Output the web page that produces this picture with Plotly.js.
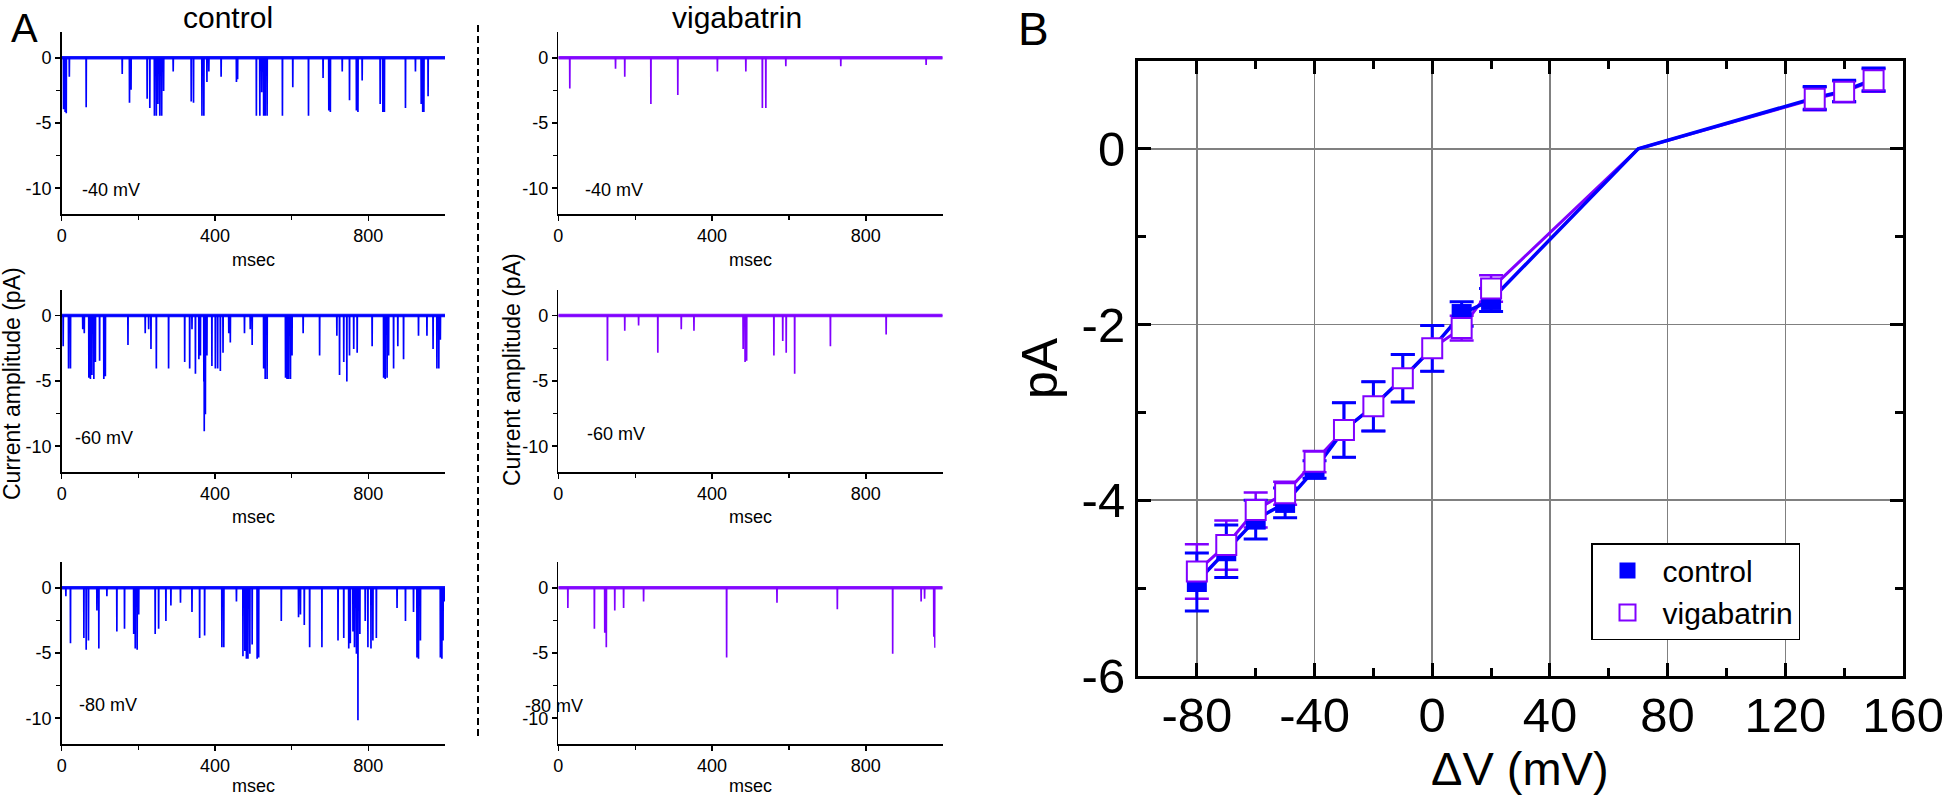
<!DOCTYPE html>
<html><head><meta charset="utf-8">
<script src="https://cdn.plot.ly/plotly-3.0.1.min.js"></script>
<style>html,body{margin:0;padding:0;background:#fff;} #chart{width:1946px;height:797px;}</style>
</head><body><div id="chart"></div>
<script>
// ---------- Panel A data: single-channel events (time ms, amplitude pA) ----------
const timeTicks = [0, 400, 800];
const timeTickText = ['0', '400', '800'];
const timeMinor = [200, 600];
const ampTicks = [0, -5, -10];
const ampTickText = ['0', '-5', '-10'];
const ampMinor = [-2.5, -7.5];
const holdingLabels = ['-40 mV', '-60 mV', '-80 mV'];
const groupNames = ['control', 'vigabatrin'];

const ctl40T = [4, 8, 11, 19, 63, 157, 176, 180, 222, 229, 241, 246, 250, 255, 260, 265, 290, 337, 343, 365, 370, 378, 383, 415, 455, 458, 507, 516, 521, 526, 530, 535, 575, 602, 643, 681, 696, 700, 731, 750, 768, 772, 783, 830, 837, 841, 896, 922, 937, 941, 944, 955];
const ctl40A = [-3.9, -4.1, -4.2, -1.4, -3.75, -1.2, -3.4, -2.4, -3.1, -3.8, -4.4, -4.4, -3.5, -4.4, -4.4, -2.5, -1.0, -3.3, -3.4, -4.4, -4.4, -1.8, -1.0, -1.4, -1.8, -1.6, -4.4, -4.4, -2.6, -4.4, -4.4, -4.4, -4.4, -2.2, -4.4, -1.5, -4.0, -4.1, -1.0, -3.2, -4.0, -4.1, -1.7, -3.5, -4.1, -4.1, -3.8, -1.0, -3.5, -4.1, -4.1, -2.9];

const vig40T = [29, 148, 172, 240, 310, 413, 487, 530, 539, 591, 734, 956];
const vig40A = [-2.3, -0.8, -1.4, -3.5, -2.8, -1.0, -1.0, -3.8, -3.8, -0.6, -0.6, -0.5];

const ctl60T = [3, 17, 22, 54, 58, 70, 74, 78, 83, 87, 98, 109, 113, 172, 217, 226, 232, 246, 278, 320, 333, 339, 348, 357, 361, 370, 371, 374, 378, 391, 400, 406, 413, 420, 435, 439, 476, 491, 496, 526, 530, 535, 583, 587, 591, 596, 600, 629, 672, 717, 724, 735, 743, 750, 761, 770, 809, 839, 843, 848, 852, 865, 876, 891, 930, 952, 968, 978, 983, 987];
const ctl60A = [-2.3, -4.0, -4.0, -1.0, -1.3, -4.7, -4.8, -4.5, -4.8, -3.5, -3.4, -4.8, -4.6, -2.2, -1.3, -1.0, -2.5, -4.0, -4.0, -3.5, -4.0, -1.0, -4.4, -3.3, -3.0, -5.0, -8.8, -7.5, -3.0, -3.8, -4.0, -4.0, -4.2, -2.8, -1.3, -2.0, -1.3, -1.0, -2.2, -4.0, -4.8, -4.8, -4.7, -4.8, -4.8, -4.8, -3.0, -1.3, -3.0, -1.5, -4.5, -3.5, -5.0, -3.0, -2.5, -2.8, -2.3, -4.7, -4.8, -4.7, -3.0, -4.0, -2.3, -3.3, -1.5, -1.5, -2.5, -4.0, -4.0, -1.8];

const vig60T = [127, 172, 208, 258, 319, 352, 480, 485, 489, 560, 583, 592, 614, 707, 852];
const vig60A = [-3.4, -1.1, -0.7, -2.8, -1.0, -1.1, -2.5, -3.5, -3.4, -3.0, -1.9, -2.8, -4.4, -2.3, -1.4];

const ctl80T = [10, 22, 57, 63, 69, 91, 96, 117, 143, 163, 187, 191, 196, 200, 243, 252, 271, 284, 309, 339, 359, 372, 417, 422, 455, 472, 477, 481, 485, 490, 496, 509, 513, 572, 617, 622, 632, 646, 678, 720, 735, 748, 752, 759, 763, 768, 772, 777, 791, 798, 806, 811, 820, 874, 896, 917, 926, 930, 935, 987, 991, 994, 998];
const ctl80A = [-0.6, -4.2, -3.8, -4.7, -4.0, -1.7, -4.6, -0.6, -3.3, -3.1, -3.5, -4.6, -4.7, -2.0, -3.5, -3.1, -2.5, -1.3, -1.1, -1.8, -3.8, -3.6, -4.5, -4.5, -1.0, -5.2, -4.8, -5.4, -5.4, -5.0, -4.3, -5.4, -5.3, -2.5, -2.2, -2.0, -2.8, -4.5, -4.5, -4.0, -3.8, -4.6, -4.2, -3.3, -4.5, -5.0, -10.1, -3.5, -2.5, -4.5, -4.6, -4.0, -3.8, -1.5, -2.5, -1.8, -5.3, -5.4, -4.0, -5.3, -5.4, -4.0, -1.0];

const vig80T = [24, 93, 120, 124, 146, 169, 221, 437, 568, 725, 869, 943, 952, 976, 978];
const vig80A = [-1.5, -3.1, -3.4, -4.5, -1.7, -1.5, -1.0, -5.3, -1.1, -1.6, -5.0, -1.0, -0.8, -3.7, -4.6];

// ---------- Panel B data: I-V relation ----------
const dV = [-80, -70, -60, -50, -40, -30, -20, -10, 0, 10, 20, 130, 140, 150];
const controlI = [-4.93, -4.58, -4.22, -4.03, -3.65, -3.20, -2.93, -2.61, -2.27, -1.88, -1.72, 0.58, 0.66, 0.79];
const controlErr = [0.33, 0.30, 0.22, 0.17, 0.10, 0.31, 0.28, 0.27, 0.26, 0.14, 0.13, 0.13, 0.12, 0.13];
const vigI = [-4.81, -4.51, -4.11, -3.92, -3.56, -3.20, -2.93, -2.61, -2.27, -2.04, -1.59, 0.57, 0.65, 0.78];
const vigErr = [0.31, 0.28, 0.20, 0.13, 0.12, 0.31, 0.28, 0.27, 0.26, 0.14, 0.15, 0.13, 0.12, 0.13];
const reversalV = 70;      // zero-current crossing joined by the line
const reversalI = 0;
const dVTicks = [-80, -40, 0, 40, 80, 120, 160];
const dVTickText = ['-80', '-40', '0', '40', '80', '120', '160'];
const dVMinor = [-100, -60, -20, 20, 60, 100, 140];
const iTicks = [-6, -4, -2, 0];
const iTickText = ['-6', '-4', '-2', '0'];
const iMinor = [-5, -3, -1];

// ---------- styling ----------
const FONT = 'Liberation Sans, Arial, Helvetica, sans-serif';
const BLUE = '#0000ff';
const PURPLE = '#8000ff';
const W = 1946, H = 797;
const px = v => v / W;
const py = v => 1 - v / H;

function buildTrace(ts, as) {
  const x = [0], y = [0];
  ts.forEach((t, i) => { x.push(t, t + 0.4, t + 1.4, t + 1.8); y.push(0, as[i], as[i], 0); });
  x.push(1000); y.push(0);
  return { x, y };
}

const panelSeries = [
  [[ctl40T, ctl40A], [vig40T, vig40A]],
  [[ctl60T, ctl60A], [vig60T, vig60A]],
  [[ctl80T, ctl80A], [vig80T, vig80A]]
];
const colXpx = [[61.7, 445], [558.3, 942.7]];
const rowYpx = [[31.7, 214.3], [289.5, 472.3], [561.7, 744.3]];

const traces = [];
const layout = {
  width: W, height: H, margin: { l: 0, r: 0, t: 0, b: 0, pad: 0 },
  paper_bgcolor: '#fff', plot_bgcolor: 'rgba(0,0,0,0)',
  font: { family: FONT, color: '#000' },
  showlegend: true,
  annotations: [], shapes: []
};

const axBase = {
  showline: true, linecolor: '#000', linewidth: 1.5, ticks: 'outside', ticklen: 5, tickwidth: 1.5,
  tickcolor: '#000', showgrid: false, zeroline: false, fixedrange: true,
  tickfont: { family: FONT, size: 18, color: '#000' }
};

for (let r = 0; r < 3; r++) {
  for (let c = 0; c < 2; c++) {
    const idx = r * 2 + c + 1;
    const xs = idx === 1 ? '' : String(idx);
    const d = buildTrace(panelSeries[r][c][0], panelSeries[r][c][1]);
    const col = c === 0 ? BLUE : PURPLE;
    traces.push({ x: [0, 1000], y: [0, 0], xaxis: 'x' + xs, yaxis: 'y' + xs, mode: 'lines',
      line: { color: col, width: 3.5 }, opacity: 0.9, showlegend: false, hoverinfo: 'skip' });
    traces.push({ x: d.x, y: d.y, xaxis: 'x' + xs, yaxis: 'y' + xs, mode: 'lines',
      line: { color: col, width: 1.3 }, showlegend: false, hoverinfo: 'skip' });
    layout['xaxis' + xs] = Object.assign({}, axBase, {
      domain: [px(colXpx[c][0]), px(colXpx[c][1])], anchor: 'y' + xs, range: [0, 1000],
      tickmode: 'array', tickvals: timeTicks, ticktext: timeTickText,
      minor: { tickmode: 'array', tickvals: timeMinor, ticks: 'outside', ticklen: 4, tickwidth: 1.2, tickcolor: '#000' }
    });
    layout['yaxis' + xs] = Object.assign({}, axBase, {
      domain: [py(rowYpx[r][1]), py(rowYpx[r][0])], anchor: 'x' + xs, range: [-12, 2],
      tickmode: 'array', tickvals: ampTicks, ticktext: ampTickText,
      minor: { tickmode: 'array', tickvals: ampMinor, ticks: 'outside', ticklen: 4, tickwidth: 1.2, tickcolor: '#000' }
    });
  }
}

// Panel B
const lineX = dV.slice(0, 11).concat([reversalV], dV.slice(11));
const lineCtl = controlI.slice(0, 11).concat([reversalI], controlI.slice(11));
const lineVig = vigI.slice(0, 11).concat([reversalI], vigI.slice(11));
traces.push({ x: lineX, y: lineVig, xaxis: 'x7', yaxis: 'y7', mode: 'lines', line: { color: PURPLE, width: 3 }, showlegend: false, hoverinfo: 'skip' });
traces.push({ x: lineX, y: lineCtl, xaxis: 'x7', yaxis: 'y7', mode: 'lines', line: { color: BLUE, width: 3.5 }, showlegend: false, hoverinfo: 'skip' });
traces.push({ x: dV, y: vigI, xaxis: 'x7', yaxis: 'y7', mode: 'markers', marker: { size: 1, opacity: 0 },
  error_y: { type: 'data', array: vigErr, visible: true, color: PURPLE, thickness: 2.5, width: 12 }, showlegend: false, hoverinfo: 'skip' });
traces.push({ x: dV, y: controlI, xaxis: 'x7', yaxis: 'y7', mode: 'markers', name: groupNames[0],
  marker: { symbol: 'square', size: 20, color: BLUE, line: { width: 0 } },
  error_y: { type: 'data', array: controlErr, visible: true, color: BLUE, thickness: 3, width: 12 } });
traces.push({ x: dV, y: vigI, xaxis: 'x7', yaxis: 'y7', mode: 'markers', name: groupNames[1],
  marker: { symbol: 'square', size: 20, color: '#ffffff', line: { width: 2, color: PURPLE } } });

const bAx = {
  showline: true, mirror: 'ticks', linecolor: '#000', linewidth: 3, ticks: 'inside', ticklen: 13, tickwidth: 3,
  tickcolor: '#000', showgrid: true, gridcolor: '#808080', gridwidth: 1.6, zeroline: false, fixedrange: true,
  tickfont: { family: FONT, size: 49, color: '#000' }
};
layout.xaxis7 = Object.assign({}, bAx, {
  domain: [px(1138), px(1903)], anchor: 'y7', range: [-100, 160], tickmode: 'array', tickvals: dVTicks, ticktext: dVTickText,
  ticklabelstandoff: -6,
  minor: { tickmode: 'array', tickvals: dVMinor, ticks: 'inside', ticklen: 8, tickwidth: 3, tickcolor: '#000', showgrid: false }
});
layout.yaxis7 = Object.assign({}, bAx, {
  domain: [py(676), py(61)], anchor: 'x7', range: [-6, 1], tickmode: 'array', tickvals: iTicks, ticktext: iTickText,
  minor: { tickmode: 'array', tickvals: iMinor, ticks: 'inside', ticklen: 8, tickwidth: 3, tickcolor: '#000', showgrid: false }
});

layout.legend = {
  x: px(1591), y: py(543), xanchor: 'left', yanchor: 'top', bgcolor: '#fff', bordercolor: '#000', borderwidth: 1.5,
  font: { family: FONT, size: 30, color: '#000' }, itemsizing: 'trace', itemwidth: 60, tracegroupgap: 0
};

function ann(text, x, y, size, extra) {
  layout.annotations.push(Object.assign({ text: text, x: px(x), y: py(y), xref: 'paper', yref: 'paper',
    showarrow: false, xanchor: 'center', yanchor: 'middle', font: { family: FONT, size: size, color: '#000' } }, extra || {}));
}
ann('A', 24, 28, 40);
ann('B', 1033, 1, 46, { yanchor: 'top' });
ann(groupNames[0], 228, 17, 30);
ann(groupNames[1], 737, 17, 30);
ann('Current amplitude (pA)', 12, 384, 23, { textangle: -90 });
ann('Current amplitude (pA)', 512, 370, 23, { textangle: -90 });
const labelPos = [[[80, 190], [583, 190]], [[73, 438], [585, 434]], [[77, 705], [523, 706]]];
for (let r = 0; r < 3; r++) {
  for (let c = 0; c < 2; c++) {
    ann(holdingLabels[r], labelPos[r][c][0], labelPos[r][c][1], 18, { xanchor: 'left' });
    ann('msec', (colXpx[c][0] + colXpx[c][1]) / 2, [260, 517, 786][r], 18);
  }
}
ann('pA', 1040, 368, 50, { textangle: -90 });
ann('\u0394V (mV)', 1520, 797, 47, { yanchor: 'bottom' });

layout.shapes.push({ type: 'line', xref: 'paper', yref: 'paper', x0: px(478), x1: px(478), y0: py(25), y1: py(737),
  line: { color: '#000', width: 2, dash: '7px,4px' } });

Plotly.newPlot('chart', traces, layout, { staticPlot: true, displayModeBar: false });
</script></body></html>
